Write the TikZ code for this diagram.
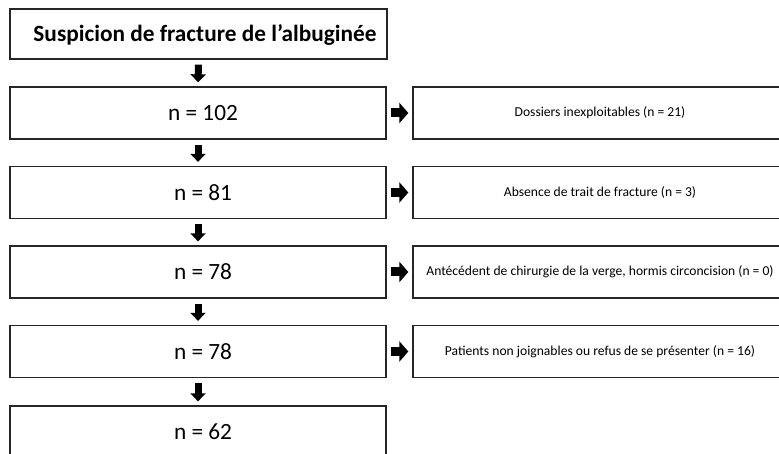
\documentclass[tikz,border=0pt]{standalone}
\usepackage{fontspec}
\setmainfont{Carlito}
\usetikzlibrary{arrows.meta}
\begin{document}
\begin{tikzpicture}[x=1pt,y=-1pt,
  box/.style={draw=black!85, line width=1.3pt, rectangle, inner sep=0pt},
  downarr/.style={line width=7pt, black, -{Triangle[width=15pt,length=8pt]}, shorten <=5pt, shorten >=4pt},
  rightarr/.style={line width=9pt, black, -{Triangle[width=20pt,length=9pt]}, shorten <=4pt, shorten >=4pt},
  bigtxt/.style={font=\fontsize{23.3}{26}\selectfont},
  smalltxt/.style={font=\fontsize{13.6}{16}\selectfont}]
\useasboundingbox (0,0) rectangle (779,454);
\clip (0,0) rectangle (779,454);
\node[box, minimum width=377pt, minimum height=50pt] (t) at (198.5,34) {};
\node[font=\bfseries\fontsize{23.3}{26}\selectfont] at (205,35) {Suspicion de fracture de l’albuginée};
\node[box, minimum width=376pt, minimum height=52pt] (b1) at (198,113) {};
\node[box, minimum width=376pt, minimum height=52pt] (b2) at (198,192.5) {};
\node[box, minimum width=376pt, minimum height=52pt] (b3) at (198,272) {};
\node[box, minimum width=376pt, minimum height=52pt] (b4) at (198,351.5) {};
\node[box, minimum width=376pt, minimum height=80pt] (b5) at (198,446) {};
\node[bigtxt] at (203,113) {n = 102};
\node[bigtxt] at (203,192.5) {n = 81};
\node[bigtxt] at (203,272) {n = 78};
\node[bigtxt] at (203,351.5) {n = 78};
\node[bigtxt] at (203,432) {n = 62};
\node[box, minimum width=400pt, minimum height=52pt] (r1) at (613,113) {};
\node[box, minimum width=400pt, minimum height=52pt] (r2) at (613,192.5) {};
\node[box, minimum width=400pt, minimum height=52pt] (r3) at (613,272) {};
\node[box, minimum width=400pt, minimum height=52pt] (r4) at (613,351.5) {};
\node[smalltxt] at (600,113) {Dossiers inexploitables (n = 21)};
\node[smalltxt] at (600,192.5) {Absence de trait de fracture (n = 3)};
\node[smalltxt] at (600,272) {Antécédent de chirurgie de la verge, hormis circoncision (n = 0)};
\node[smalltxt] at (600,351.5) {Patients non joignables ou refus de se présenter (n = 16)};
\draw[downarr] (t.south) -- (b1.north);
\draw[downarr] (b1.south) -- (b2.north);
\draw[downarr] (b2.south) -- (b3.north);
\draw[downarr] (b3.south) -- (b4.north);
\draw[downarr] (b4.south) -- (b5.north);
\draw[rightarr] (b1.east) -- (r1.west);
\draw[rightarr] (b2.east) -- (r2.west);
\draw[rightarr] (b3.east) -- (r3.west);
\draw[rightarr] (b4.east) -- (r4.west);
\end{tikzpicture}
\end{document}
